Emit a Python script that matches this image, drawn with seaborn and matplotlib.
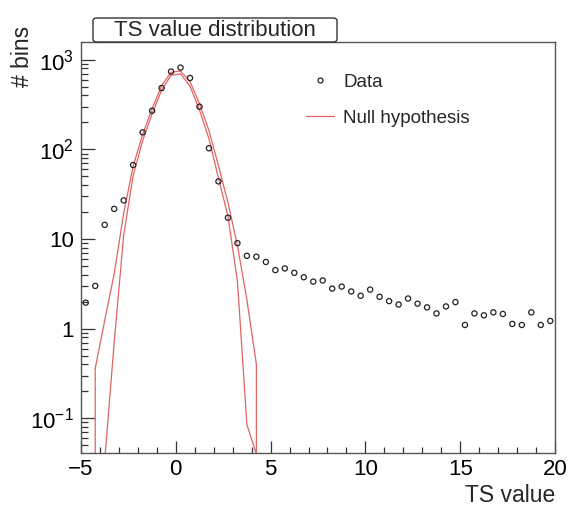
import numpy as np
import pandas as pd
import matplotlib
matplotlib.use("Agg")
import matplotlib.pyplot as plt
from matplotlib.patches import FancyBboxPatch
from matplotlib.lines import Line2D
from matplotlib.ticker import FixedLocator, FixedFormatter, LogLocator, MultipleLocator, NullFormatter
import seaborn as sns

# ---- data ----
ts_centers = [-4.75, -4.25, -3.75, -3.25, -2.75, -2.25, -1.75, -1.25, -0.75, -0.25,
              0.25, 0.75, 1.25, 1.75, 2.25, 2.75, 3.25, 3.75, 4.25, 4.75,
              5.25, 5.75, 6.25, 6.75, 7.25, 7.75, 8.25, 8.75, 9.25, 9.75,
              10.25, 10.75, 11.25, 11.75, 12.25, 12.75, 13.25, 13.75, 14.25, 14.75,
              15.25, 15.75, 16.25, 16.75, 17.25, 17.75, 18.25, 18.75, 19.25, 19.75]
data_counts = [1.95, 3.0, 14.4, 21.7, 27, 67, 155, 270, 484, 740,
               818, 627, 300, 103, 44, 17.3, 9.0, 6.5, 6.35, 5.55,
               4.5, 4.7, 4.2, 3.75, 3.35, 3.45, 2.8, 2.95, 2.6, 2.33,
               2.73, 2.27, 2.03, 1.86, 2.17, 1.9, 1.73, 1.48, 1.77, 1.98,
               1.1, 1.48, 1.41, 1.52, 1.46, 1.13, 1.1, 1.52, 1.1, 1.22]

null_centers = [-4.25, -3.75, -3.25, -2.75, -2.25, -1.75, -1.25, -0.75, -0.25,
                0.25, 0.75, 1.25, 1.75, 2.25, 2.75, 3.25, 3.75, 4.25]
null_upper = [0.36, 1.23, 4.1, 19.3, 65, 147, 284, 514, 726,
              748, 571, 324, 162, 66, 25.6, 8.5, 2.1, 0.40]
null_lower = [0.001, 0.034, 0.7, 11, 51, 125, 249, 457, 673,
              697, 508, 275, 131, 48, 18, 3.4, 0.085, 0.04]

ytick_vals = [0.1, 1, 10, 100, 1000]
ytick_labels = [r"$10^{-1}$", "1", "10", r"$10^{2}$", r"$10^{3}$"]
xtick_vals = [-5, 0, 5, 10, 15, 20]
xtick_labels = ["\u22125", "0", "5", "10", "15", "20"]

title_text = "TS value distribution"
x_label = "TS value"
y_label = "# bins"
legend_labels = ["Data", "Null hypothesis"]

# ---- style ----
sns.set_style("ticks")
plt.rcParams["font.family"] = ["Liberation Sans", "DejaVu Sans"]
plt.rcParams["mathtext.fontset"] = "custom"
plt.rcParams["mathtext.rm"] = "Liberation Sans"
plt.rcParams["mathtext.it"] = "Liberation Sans:italic"
plt.rcParams["mathtext.bf"] = "Liberation Sans:bold"

W, H = 577, 517
fig = plt.figure(figsize=(W / 100, H / 100), dpi=100)
fig.patch.set_facecolor("white")
ax = fig.add_axes([81 / W, 1 - 453 / H, (555 - 81) / W, (453 - 42) / H])

df_data = pd.DataFrame({"ts": ts_centers, "n": data_counts})
# closed outline of the null-hypothesis band: upper edge, then lower edge back
band_x = null_centers + null_centers[::-1] + null_centers[:1]
band_y = null_upper + null_lower[::-1] + null_upper[:1]
df_null = pd.DataFrame({"ts": band_x, "n": band_y})

red = "#e06464"
sns.lineplot(data=df_null, x="ts", y="n", sort=False, estimator=None, ax=ax,
             color=red, linewidth=0.9, legend=False)
sns.scatterplot(data=df_data, x="ts", y="n", ax=ax, s=14, marker="o",
                facecolor="none", edgecolor="#222222", linewidth=0.9,
                legend=False, zorder=3)

ax.set_yscale("log")
ax.set_xlim(-5, 20)
ax.set_ylim(0.041, 1580)

ax.yaxis.set_major_locator(FixedLocator(ytick_vals))
ax.yaxis.set_major_formatter(FixedFormatter(ytick_labels))
ax.yaxis.set_minor_locator(LogLocator(base=10, subs=np.arange(2, 10)))
ax.yaxis.set_minor_formatter(NullFormatter())
ax.xaxis.set_major_locator(FixedLocator(xtick_vals))
ax.xaxis.set_major_formatter(FixedFormatter(xtick_labels))
ax.xaxis.set_minor_locator(MultipleLocator(1))

ax.tick_params(axis="both", which="both", direction="in", top=False, right=False,
               colors="#333333", labelcolor="black", labelsize=16, width=0.9)
ax.tick_params(axis="y", which="major", length=10, pad=5)
ax.tick_params(axis="y", which="minor", length=5)
ax.tick_params(axis="x", which="major", length=9, pad=4)
ax.tick_params(axis="x", which="minor", length=4.4)
for sp in ax.spines.values():
    sp.set_color("#555555")
    sp.set_linewidth(1.0)
    sp.set_visible(True)

ax.set_xlabel(x_label, fontsize=16.5, loc="right")
ax.xaxis.set_label_coords(1.0, -0.075)
ax.set_ylabel(y_label, fontsize=16.5, loc="top")
ax.yaxis.set_label_coords(-0.1, 1.04)

# legend
handles = [Line2D([], [], marker="o", linestyle="none", markersize=3.6,
                  markerfacecolor="none", markeredgecolor="#222222", markeredgewidth=0.9),
           Line2D([], [], color=red, linewidth=0.9)]
fig.legend(handles, legend_labels, loc="upper left",
           bbox_to_anchor=(289 / W, 1 - 57 / H), frameon=False, fontsize=13.5,
           handlelength=1.5, handletextpad=0.5, labelspacing=1.0)

# title box
box = FancyBboxPatch((93 / W, 1 - 42 / H), (337 - 93) / W, 24 / H,
                     boxstyle="round,pad=0,rounding_size=0.006",
                     transform=fig.transFigure, facecolor="white",
                     edgecolor="#333333", linewidth=1.0, zorder=5)
fig.patches.append(box)
fig.text(215 / W, 1 - 30 / H, title_text, ha="center", va="center",
         fontsize=16, zorder=6)

fig.savefig("out.png", dpi=100, facecolor="white")
